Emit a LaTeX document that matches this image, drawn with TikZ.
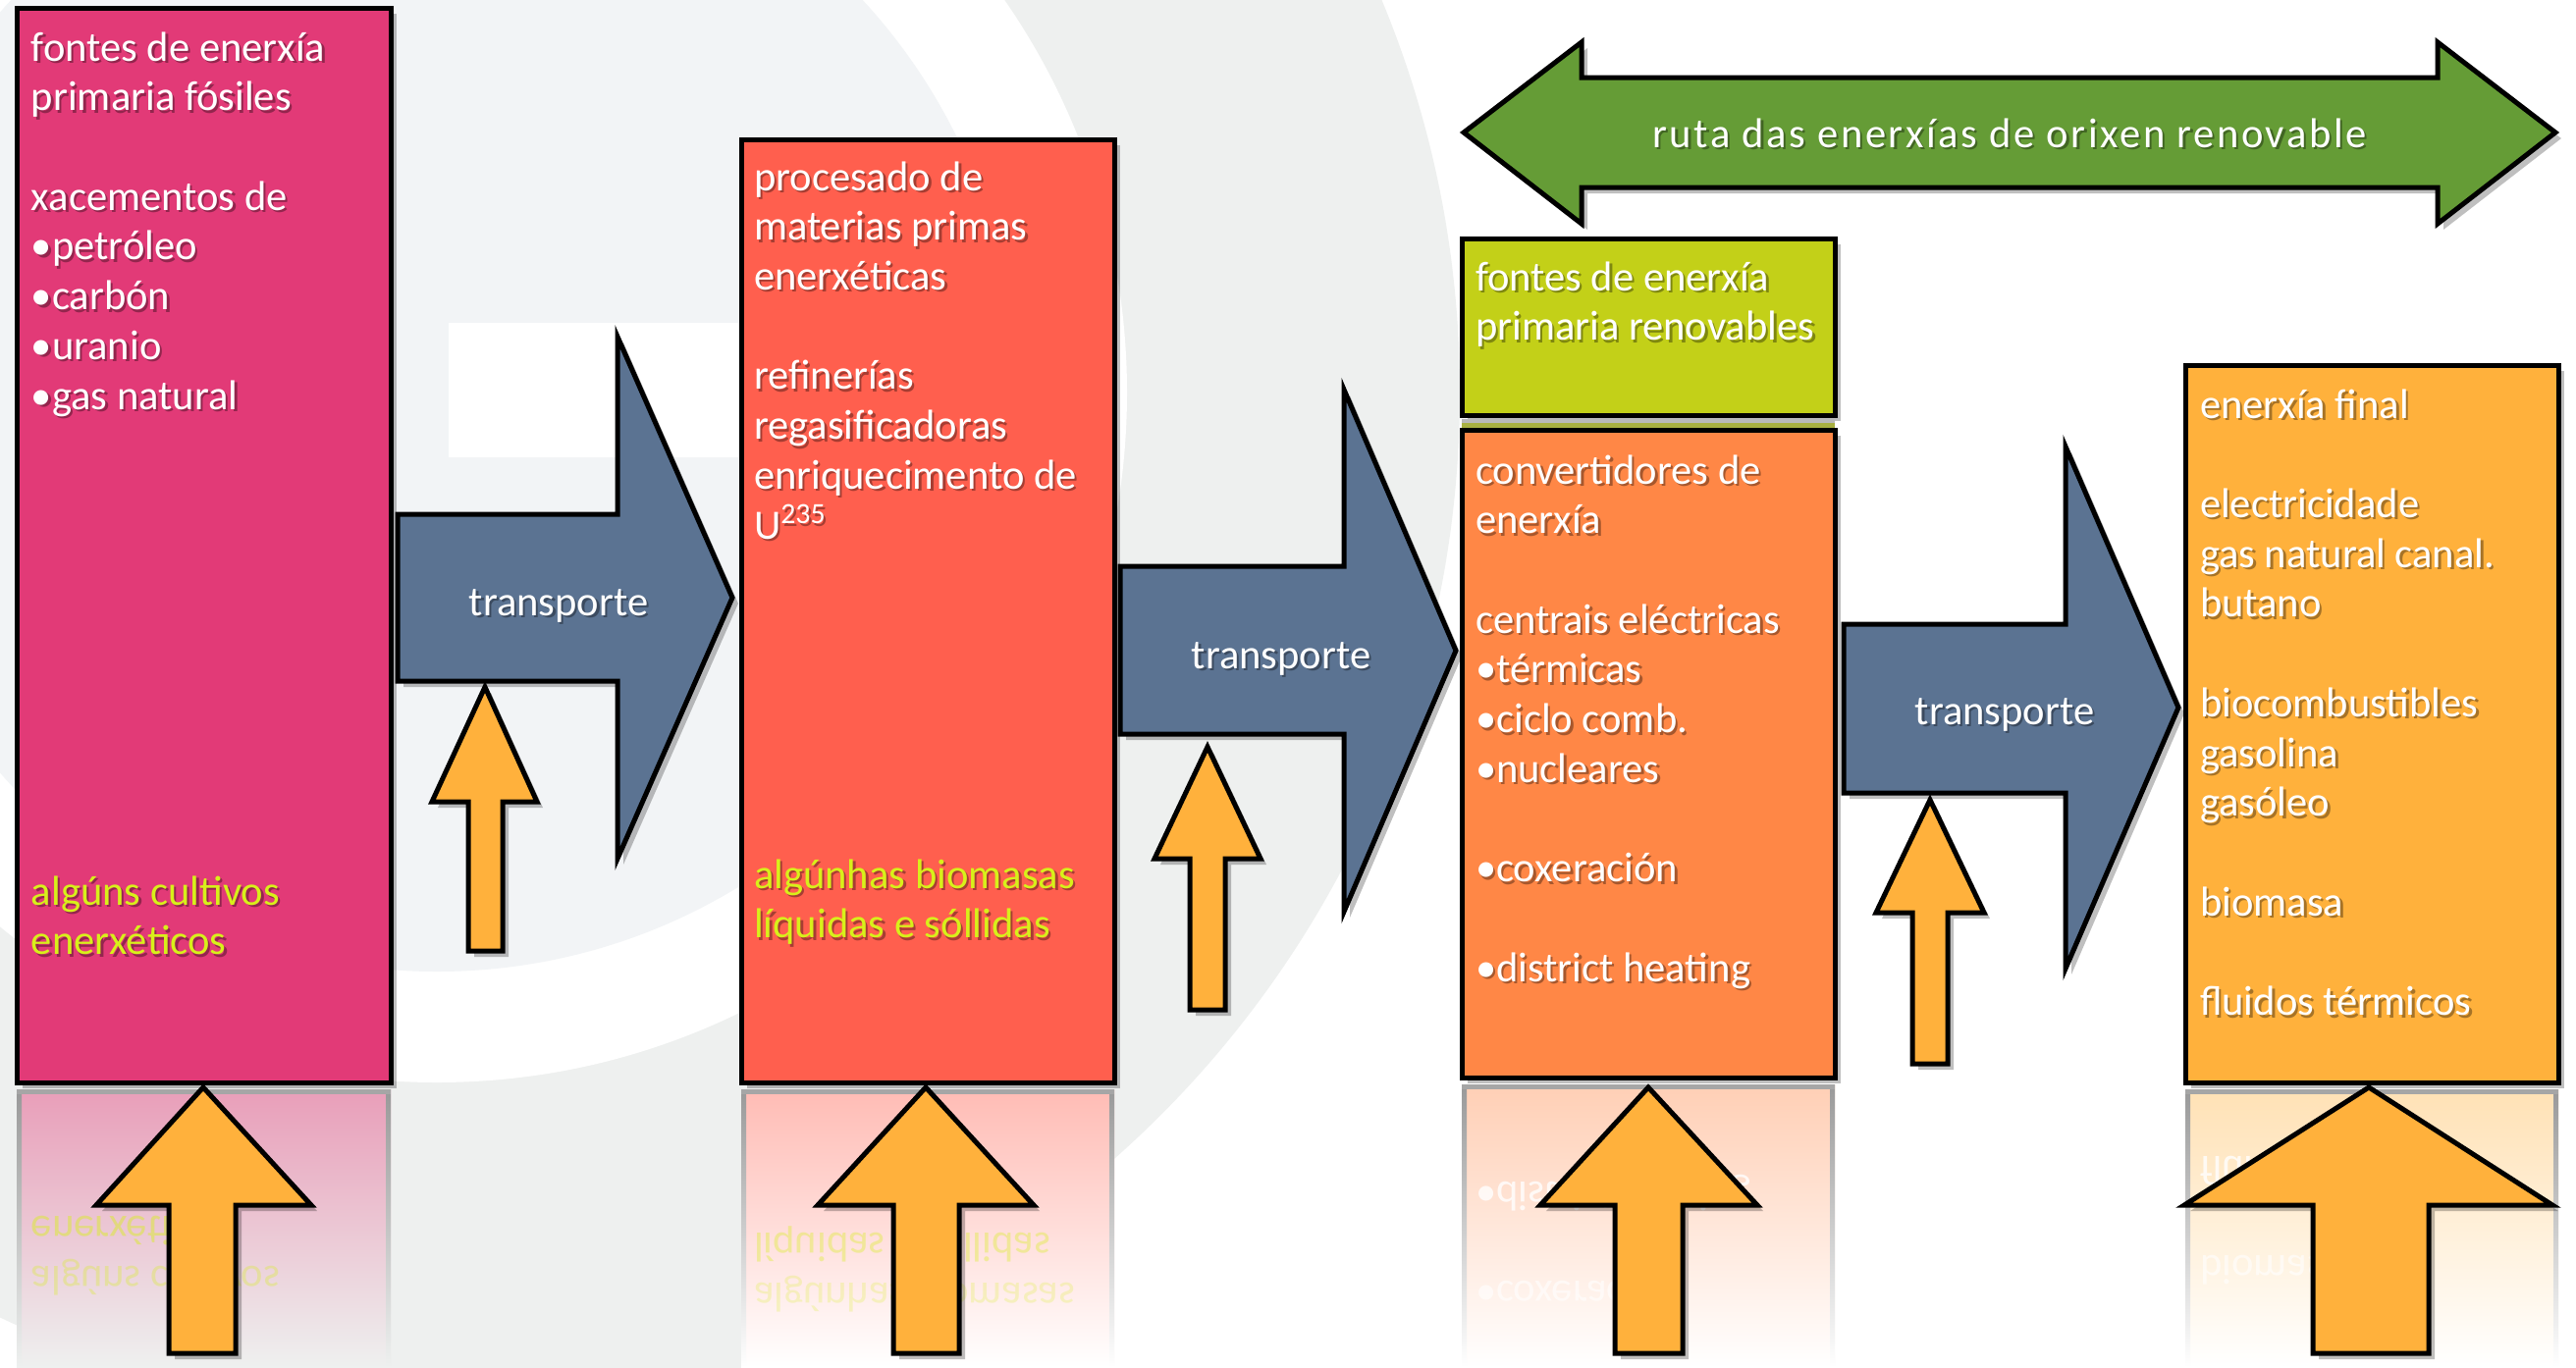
\documentclass[tikz,border=0pt]{standalone}
\usepackage{fontspec}
\setmainfont{Carlito}
\usetikzlibrary{shadows}
\definecolor{bgA}{HTML}{F2F4F6}
\definecolor{bgB}{HTML}{EEF0EF}
\definecolor{cpink}{HTML}{E23A77}
\definecolor{cred}{HTML}{FF5F4E}
\definecolor{cgreen}{HTML}{C3D018}
\definecolor{corange}{HTML}{FF8746}
\definecolor{cyel}{HTML}{FFB13C}
\definecolor{cblue}{HTML}{5B7392}
\definecolor{cdgreen}{HTML}{659C36}
\definecolor{ctxt}{HTML}{D8F01A}
\newcommand{\tlines}[1]{\vtop{\baselineskip=25.36pt\lineskiplimit=-100pt\halign{##\hfil\cr#1\crcr}}}
\newcommand{\tblock}[5]{%
  \node[tshadow, xshift=1.2pt, yshift=-1.2pt] (#1s) at (#2,#3) {\tlines{#5}};
  \node[tmain, text=#4] (#1) at (#2,#3) {\tlines{#5}};}
\newcommand{\mtext}[5]{%
  \node[tmain, text=#4, text opacity=#5] at (#1,#2) {\scalebox{1}[-1]{#3}};}
\newcommand{\reflbox}[5]{%
  \shade[top color=#4, bottom color=#5] (#1,#3) rectangle (#2,1393);
  \shade[top color=gray!80, bottom color=#5] (#1,#3) rectangle (#1+5,1393);
  \shade[top color=gray!80, bottom color=#5] (#2-5,#3) rectangle (#2,1393);
  \fill[gray!70] (#1,#3) rectangle (#2,#3+5);}
\tikzset{
  outl/.style={draw=black, line width=2.5pt, line join=miter, miter limit=10},
  shd/.style={drop shadow={shadow xshift=3pt, shadow yshift=-3pt, opacity=0.25, fill=black}},
  boxst/.style={outl, shd},
  bluearr/.style={outl, shd, fill=cblue},
  orarr/.style={outl, shd, fill=cyel},
  tmain/.style={anchor=base west, inner sep=0pt, outer sep=0pt, font=\fontsize{21.3}{25.36}\selectfont},
  tshadow/.style={tmain, text=black, text opacity=0.35},
  lbl/.style={anchor=base, inner sep=0pt, outer sep=0pt, text=white, font=\fontsize{21.3}{25.36}\selectfont},
  lblsh/.style={lbl, text=black, text opacity=0.35},
  wide/.style={font=\fontsize{21.3}{25.36}\selectfont\addfontfeature{LetterSpace=6}},
}
\begin{document}
\begin{tikzpicture}[x=0.5pt, y=-0.5pt]
\useasboundingbox (0,0) rectangle (2624,1393);
% background watermark
\fill[white] (0,0) rectangle (2624,1393);
\fill[bgB] (445,400) circle (1042);
\fill[white] (445,400) circle (703);
\fill[bgA] (445,400) circle (590);
\fill[white] (457,329) rectangle (760,466);

% reflections
\reflbox{17}{398}{1110}{cpink!45!bgB}{bgB}
\reflbox{755}{1135}{1110}{cred!42!white}{white}
\reflbox{1489}{1869}{1105}{corange!40!white}{white}
\reflbox{2226}{2606}{1110}{cyel!38!white}{white}
\begin{scope}
  \clip (17,1115) rectangle (398,1393);
  \mtext{32}{1239}{enerxéticos}{ctxt}{0.45}
  \mtext{32}{1290}{algúns cultivos}{ctxt}{0.3}
\end{scope}
\begin{scope}
  \clip (755,1115) rectangle (1135,1393);
  \mtext{768}{1256}{líquidas e sóllidas}{ctxt}{0.35}
  \mtext{768}{1307}{algúnhas biomasas}{ctxt}{0.22}
\end{scope}
\begin{scope}
  \clip (1489,1110) rectangle (1869,1393);
  \mtext{1503}{1204}{•district heating}{white}{0.8}
  \mtext{1503}{1305}{•coxeración}{white}{0.6}
\end{scope}
\begin{scope}
  \clip (2226,1115) rectangle (2606,1393);
  \mtext{2241}{1178}{fluidos térmicos}{white}{0.8}
  \mtext{2241}{1279}{biomasa}{white}{0.6}
\end{scope}

% green double arrow
\draw[outl, shd, fill=cdgreen] (1491,135) -- (1611,43) -- (1611,79) -- (2483,79) -- (2483,43)
  -- (2603,135) -- (2483,228) -- (2483,191) -- (1611,191) -- (1611,228) -- cycle;
\node[lblsh, wide, xshift=1.2pt, yshift=-1.2pt] (rutas) at (2047,150) {ruta das enerxías de orixen renovable};
\node[lbl, wide] (ruta) at (2047,150) {ruta das enerxías de orixen renovable};

% boxes
\draw[boxst, fill=cpink] (17,8) rectangle (398,1103);
\draw[boxst, fill=cred] (755,142) rectangle (1135,1103);
\draw[boxst, fill=cgreen] (1489,243) rectangle (1869,423);
\fill[gray!55] (1489,427) rectangle (1869,431);
\fill[cgreen!60!gray] (1489,431) rectangle (1869,437);
\draw[boxst, fill=corange] (1489,438) rectangle (1869,1098);
\draw[boxst, fill=cyel] (2226,372) rectangle (2606,1103);

% box texts
\tblock{t1}{32}{62}{white}{fontes de enerxía\cr primaria fósiles\cr\cr xacementos de\cr •petróleo\cr •carbón\cr •uranio\cr •gas natural}
\tblock{t1y}{32}{922}{ctxt}{algúns cultivos\cr enerxéticos}
\tblock{t2}{768}{194}{white}{procesado de\cr materias primas\cr enerxéticas\cr\cr refinerías\cr regasificadoras\cr enriquecimento de\cr U\textsuperscript{235}}
\tblock{t2y}{768}{905}{ctxt}{algúnhas biomasas\cr líquidas e sóllidas}
\tblock{t3}{1503}{296}{white}{fontes de enerxía\cr primaria renovables}
\tblock{t4}{1503}{493}{white}{convertidores de\cr enerxía\cr\cr centrais eléctricas\cr •térmicas\cr •ciclo comb.\cr •nucleares\cr\cr •coxeración\cr\cr •district heating}
\tblock{t5}{2241}{426}{white}{enerxía final\cr\cr electricidade\cr gas natural canal.\cr butano\cr\cr biocombustibles\cr gasolina\cr gasóleo\cr\cr biomasa\cr\cr fluidos térmicos}

% blue transport arrows
\draw[bluearr] (405,524) -- (629,524) -- (629,343) -- (746,609) -- (629,875) -- (629,694) -- (405,694) -- cycle;
\draw[bluearr] (1141,577) -- (1369,577) -- (1369,397) -- (1483,663) -- (1369,929) -- (1369,748) -- (1141,748) -- cycle;
\draw[bluearr] (1878,636) -- (2104,636) -- (2104,455) -- (2219,721) -- (2104,987) -- (2104,808) -- (1878,808) -- cycle;
\foreach \n/\x/\y in {a/569/627, b/1305/681, c/2042/738}{
  \node[lblsh, xshift=1.2pt, yshift=-1.2pt] (tr\n s) at (\x,\y) {transporte};
  \node[lbl] (tr\n) at (\x,\y) {transporte};
}

% small orange arrows
\draw[orarr] (494,700) -- (547,817) -- (512,817) -- (512,969) -- (477,969) -- (477,817) -- (440,817) -- cycle;
\draw[orarr] (1230,761) -- (1284,875) -- (1248,875) -- (1248,1029) -- (1212,1029) -- (1212,875) -- (1176,875) -- cycle;
\draw[orarr] (1966,815) -- (2021,930) -- (1984,930) -- (1984,1084) -- (1948,1084) -- (1948,930) -- (1911,930) -- cycle;

% big orange arrows
\draw[orarr] (207,1108) -- (317,1228) -- (240,1228) -- (240,1379) -- (172,1379) -- (172,1228) -- (98,1228) -- cycle;
\draw[orarr] (943,1108) -- (1053,1228) -- (977,1228) -- (977,1379) -- (910,1379) -- (910,1228) -- (833,1228) -- cycle;
\draw[orarr] (1679,1108) -- (1790,1228) -- (1714,1228) -- (1714,1379) -- (1645,1379) -- (1645,1228) -- (1569,1228) -- cycle;
\draw[orarr] (2413,1108) -- (2600,1228) -- (2474,1228) -- (2474,1379) -- (2356,1379) -- (2356,1228) -- (2225,1228) -- cycle;
\end{tikzpicture}
\end{document}
